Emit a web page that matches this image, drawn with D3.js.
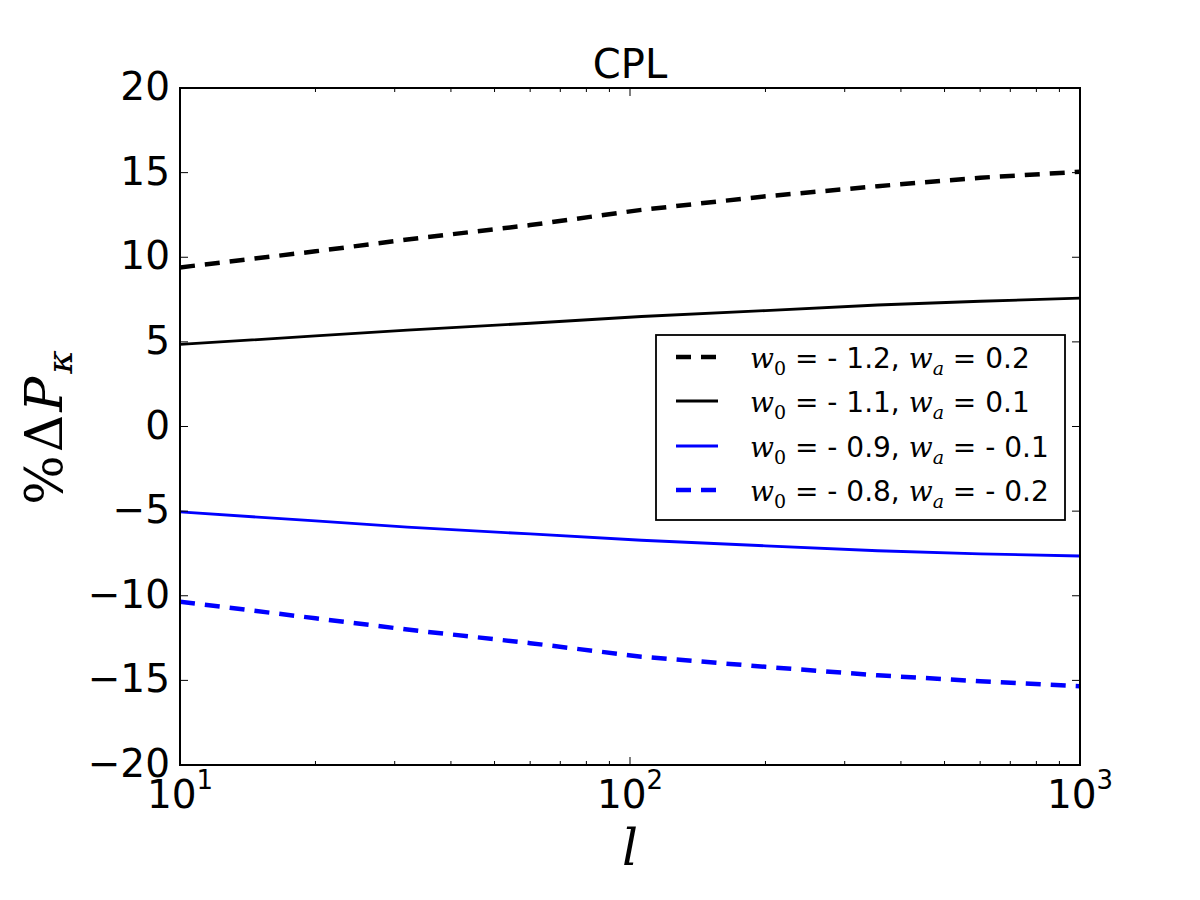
<!DOCTYPE html>
<html><head><meta charset="utf-8">
<script src="https://cdn.jsdelivr.net/npm/d3@7"></script>
<style>body{margin:0;background:#fff}</style>
</head><body>
<svg id="c" width="1200" height="900"></svg>
<script>
const ells = [10, 20, 32, 60, 106, 200, 355, 600, 1000];
const dashBlack = [9.4, 10.35, 11.05, 11.9, 12.8, 13.6, 14.2, 14.7, 15.05];
const solidBlack = [4.85, 5.35, 5.7, 6.1, 6.5, 6.85, 7.18, 7.4, 7.58];
const solidBlue = [-5.05, -5.58, -5.95, -6.35, -6.72, -7.05, -7.34, -7.52, -7.65];
const dashBlue = [-10.35, -11.33, -12.0, -12.8, -13.6, -14.2, -14.7, -15.05, -15.35];
const seriesLabels = [
  {w0: "- 1.2", wa: "0.2"},
  {w0: "- 1.1", wa: "0.1"},
  {w0: "- 0.9", wa: "- 0.1"},
  {w0: "- 0.8", wa: "- 0.2"}
];
const yTicks = [-20, -15, -10, -5, 0, 5, 10, 15, 20];
const xTicks = [10, 100, 1000];
const xExp = ["1", "2", "3"];

const series = [
  {vals: dashBlack, color: "#000", dash: "15,10", width: 4.5},
  {vals: solidBlack, color: "#000", dash: null, width: 2.8},
  {vals: solidBlue, color: "#0000ff", dash: null, width: 2.8},
  {vals: dashBlue, color: "#0000ff", dash: "15,10", width: 4.5}
];

const L = 180, R = 1080, T = 88, B = 765;
const svg = d3.select("#c");
const x = d3.scaleLog().domain([10, 1000]).range([L, R]);
const y = d3.scaleLinear().domain([-20, 20]).range([B, T]);
const sans = "'DejaVu Sans', sans-serif";
const serif = "'DejaVu Serif', 'Liberation Serif', serif";

svg.append("clipPath").attr("id","clip").append("rect").attr("x",L).attr("y",T).attr("width",R-L).attr("height",B-T);

const line = d3.line().x((d,i)=>x(ells[i])).y(d=>y(d));
series.forEach(s=>{
  svg.append("path").datum(s.vals).attr("d", line)
    .attr("fill","none").attr("stroke", s.color).attr("stroke-width", s.width)
    .attr("stroke-dasharray", s.dash).attr("clip-path","url(#clip)");
});

const minors = [];
[10,100].forEach(d=>{for(let k=2;k<=9;k++) minors.push(d*k);});
const tickG = svg.append("g").attr("stroke","#000").attr("stroke-width",1);
minors.forEach(v=>{
  tickG.append("line").attr("x1",x(v)).attr("x2",x(v)).attr("y1",B).attr("y2",B-4);
  tickG.append("line").attr("x1",x(v)).attr("x2",x(v)).attr("y1",T).attr("y2",T+4);
});
xTicks.forEach(v=>{
  tickG.append("line").attr("x1",x(v)).attr("x2",x(v)).attr("y1",B).attr("y2",B-8);
  tickG.append("line").attr("x1",x(v)).attr("x2",x(v)).attr("y1",T).attr("y2",T+8);
});
yTicks.forEach(v=>{
  tickG.append("line").attr("x1",L).attr("x2",L+8).attr("y1",y(v)).attr("y2",y(v));
  tickG.append("line").attr("x1",R).attr("x2",R-8).attr("y1",y(v)).attr("y2",y(v));
});

svg.append("rect").attr("x",L).attr("y",T).attr("width",R-L).attr("height",B-T)
  .attr("fill","none").attr("stroke","#000").attr("stroke-width",2);

yTicks.forEach(v=>{
  svg.append("text").attr("x",L-10).attr("y",y(v)+12).attr("text-anchor","end")
    .attr("font-family",sans).attr("font-size",39).text(v<0?"\u2212"+Math.abs(v):String(v));
});
xTicks.forEach((v,i)=>{
  const t = svg.append("text").attr("x",x(v)).attr("y",808).attr("text-anchor","middle")
    .attr("font-family",sans).attr("font-size",39);
  t.append("tspan").text("10");
  t.append("tspan").attr("font-size",26).attr("dy",-19).text(xExp[i]);
});

svg.append("text").attr("x",(L+R)/2).attr("y",78).attr("text-anchor","middle")
  .attr("font-family",sans).attr("font-size",40).text("CPL");

svg.append("text").attr("x",(L+R)/2).attr("y",865).attr("text-anchor","middle")
  .attr("font-family",serif).attr("font-style","italic").attr("font-size",50).text("l");

const yl = svg.append("text").attr("transform","translate(62,426) rotate(-90)")
  .attr("text-anchor","middle").attr("font-family",serif).attr("font-size",52)
  .attr("letter-spacing",3);
yl.append("tspan").text("%\u0394");
yl.append("tspan").attr("font-style","italic").text("P");
yl.append("tspan").attr("font-style","italic").attr("font-size",36).attr("dy",10).text("\u03BA");

const lg = svg.append("g");
lg.append("rect").attr("x",656).attr("y",335).attr("width",409).attr("height",185)
  .attr("fill","#fff").attr("stroke","#000").attr("stroke-width",1.8);
const rowY = [357, 401, 446, 490];
series.forEach((s,i)=>{
  lg.append("line").attr("x1",676).attr("x2",718).attr("y1",rowY[i]).attr("y2",rowY[i])
    .attr("stroke",s.color).attr("stroke-width",s.width).attr("stroke-dasharray", s.dash);
  const t = lg.append("text").attr("x",750).attr("y",rowY[i]+11).attr("font-size",28).attr("font-family",sans);
  t.append("tspan").attr("font-family",serif).attr("font-style","italic").text("w");
  t.append("tspan").attr("font-family",serif).attr("font-size",19).attr("dy",7).text("0");
  t.append("tspan").attr("dy",-7).text(" = " + seriesLabels[i].w0 + ", ");
  t.append("tspan").attr("font-family",serif).attr("font-style","italic").text("w");
  t.append("tspan").attr("font-family",serif).attr("font-style","italic").attr("font-size",19).attr("dy",7).text("a");
  t.append("tspan").attr("dy",-7).text(" = " + seriesLabels[i].wa);
});
</script>
</body></html>
